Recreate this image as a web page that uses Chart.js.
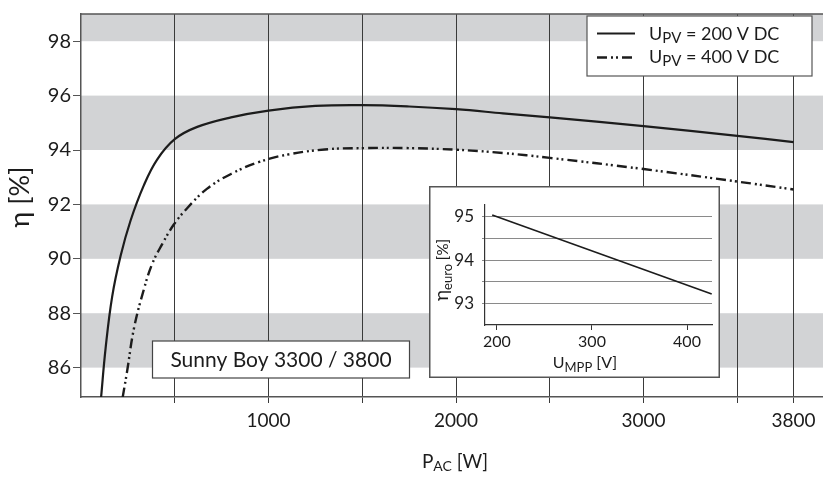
<!DOCTYPE html>
<html>
<head>
<meta charset="utf-8">
<script src="https://cdn.jsdelivr.net/npm/chart.js@4.4.1/dist/chart.umd.min.js"></script>
<style>
  html, body { margin: 0; padding: 0; background: #fff; }
  #wrap { position: relative; width: 823px; height: 477px; }
  #main { position: absolute; left: 0; top: 0; }
  #inset { position: absolute; left: 429px; top: 186px; }
</style>
</head>
<body>
<div id="wrap">
  <canvas id="main" width="823" height="477"></canvas>
  <canvas id="inset" width="291" height="192"></canvas>
</div>
<script>
// main chart data
const pSolid = [107, 131, 166, 211, 264, 335, 406, 500, 620, 800, 1000, 1250, 1500, 1750, 2000, 2250, 2500, 3000, 3500, 3800];
const etaSolid = [84.9, 86.7, 88.6, 90.1, 91.4, 92.7, 93.65, 94.4, 94.85, 95.2, 95.45, 95.62, 95.65, 95.6, 95.5, 95.35, 95.2, 94.88, 94.52, 94.29];

const pDash = [222, 246, 282, 335, 380, 433, 495, 566, 673, 800, 950, 1100, 1300, 1500, 1750, 2000, 2250, 2500, 3000, 3500, 3800];
const etaDash = [84.9, 85.87, 87.43, 88.87, 89.82, 90.54, 91.26, 91.86, 92.58, 93.12, 93.56, 93.83, 94.02, 94.07, 94.07, 94.01, 93.89, 93.71, 93.3, 92.84, 92.55];

const xTickValues = [500, 1000, 1500, 2000, 2500, 3000, 3500, 3800];
const xLabelled = [1000, 2000, 3000, 3800];
const yTickValues = [86, 88, 90, 92, 94, 96, 98];
const grayBands = [[86, 88], [90, 92], [94, 96], [98, 99]];

const seriesNames = ['200 V DC', '400 V DC'];

// inset data
const uMpp = [195, 426];
const etaEuro = [95.03, 93.22];
const insetXTicks = [200, 300, 400];
const insetYTicks = [93, 93.5, 94, 94.5, 95];

const FONT = 'Lato, "Open Sans", sans-serif';
const INK = '#1c1c1c';
const DASH = [10, 4, 2, 3, 2, 4];

function toPoints(xs, ys) {
  return xs.map((x, i) => ({ x: x, y: ys[i] }));
}

/**
 * Draws text pieces one after the other, some of them smaller and lower.
 */
function drawParts(ctx, parts, x, y, align) {
  let total = 0;
  parts.forEach(p => {
    ctx.font = p.size + 'px ' + FONT;
    p.w = ctx.measureText(p.t).width;
    total += p.w;
  });
  let cx = align === 'center' ? x - total / 2 : x;
  ctx.textAlign = 'left';
  ctx.textBaseline = 'alphabetic';
  parts.forEach(p => {
    ctx.font = p.size + 'px ' + FONT;
    ctx.fillText(p.t, cx, y + (p.dy || 0));
    cx += p.w;
  });
}

const bandsPlugin = {
  id: 'bands',
  beforeDraw(chart) {
    const { ctx, chartArea: a, scales: { y } } = chart;
    ctx.save();
    ctx.fillStyle = '#d2d3d5';
    grayBands.forEach(([lo, hi]) => {
      const top = y.getPixelForValue(hi);
      const bot = y.getPixelForValue(lo);
      ctx.fillRect(a.left, top, a.right - a.left, bot - top);
    });
    ctx.restore();
  }
};

const decorPlugin = {
  id: 'decor',
  afterDraw(chart) {
    const { ctx, chartArea: a } = chart;
    ctx.save();
    // top border
    ctx.strokeStyle = '#555';
    ctx.lineWidth = 1.5;
    ctx.beginPath();
    ctx.moveTo(a.left, a.top);
    ctx.lineTo(a.right, a.top);
    ctx.stroke();

    // legend box
    ctx.fillStyle = '#fff';
    ctx.fillRect(587, 16, 225, 60);
    ctx.strokeStyle = '#555';
    ctx.lineWidth = 1.2;
    ctx.strokeRect(587, 16, 225, 60);
    ctx.strokeStyle = INK;
    ctx.lineWidth = 2.2;
    ctx.beginPath();
    ctx.moveTo(597, 33.5);
    ctx.lineTo(635, 33.5);
    ctx.stroke();
    ctx.setLineDash(DASH);
    ctx.lineWidth = 2.4;
    ctx.beginPath();
    ctx.moveTo(597, 57.5);
    ctx.lineTo(635, 57.5);
    ctx.stroke();
    ctx.setLineDash([]);
    ctx.fillStyle = INK;
    drawParts(ctx, [{ t: 'U', size: 18 }, { t: 'PV', size: 15, dy: 3 }, { t: ' = ' + seriesNames[0], size: 18 }], 649, 39.5, 'left');
    drawParts(ctx, [{ t: 'U', size: 18 }, { t: 'PV', size: 15, dy: 3 }, { t: ' = ' + seriesNames[1], size: 18 }], 649, 63, 'left');

    // model box
    ctx.fillStyle = '#fff';
    ctx.fillRect(152.5, 341, 257, 37);
    ctx.strokeStyle = '#444';
    ctx.lineWidth = 1.2;
    ctx.strokeRect(152.5, 341, 257, 37);
    ctx.fillStyle = INK;
    drawParts(ctx, [{ t: 'Sunny Boy 3300 / 3800', size: 21 }], 281, 366.5, 'center');

    // axis titles
    drawParts(ctx, [{ t: 'P', size: 19 }, { t: 'AC', size: 14, dy: 3 }, { t: ' [W]', size: 19 }], 455, 468, 'center');
    ctx.translate(29, 197);
    ctx.rotate(-Math.PI / 2);
    drawParts(ctx, [{ t: 'η [%]', size: 27 }], 0, 0, 'center');
    ctx.restore();
  }
};

function renderMain(canvas) {
  return new Chart(canvas, {
    type: 'line',
    data: {
      datasets: [
        {
          label: seriesNames[0],
          data: toPoints(pSolid, etaSolid),
          borderColor: INK,
          borderWidth: 2.2,
          pointRadius: 0,
          tension: 0.4
        },
        {
          label: seriesNames[1],
          data: toPoints(pDash, etaDash),
          borderColor: INK,
          borderWidth: 2.4,
          borderDash: DASH,
          pointRadius: 0,
          tension: 0.4
        }
      ]
    },
    options: {
      responsive: false,
      animation: false,
      devicePixelRatio: 1,
      layout: { padding: { top: 5, right: 0, left: 0, bottom: 0 } },
      plugins: { legend: { display: false }, tooltip: { enabled: false } },
      scales: {
        x: {
          type: 'linear',
          min: 0,
          max: 3957,
          afterBuildTicks: (s) => { s.ticks = xTickValues.map(v => ({ value: v })); },
          afterFit: (s) => { s.height = 80; },
          ticks: {
            autoSkip: false,
            maxRotation: 0,
            padding: 6,
            color: INK,
            font: { family: FONT, size: 19 },
            callback: (v) => xLabelled.includes(v) ? String(v) : ''
          },
          grid: { color: '#3a3a3a', lineWidth: 1, tickLength: 6 },
          border: { color: '#555', width: 1.5 }
        },
        y: {
          min: 84.92,
          max: 99,
          afterBuildTicks: (s) => { s.ticks = yTickValues.map(v => ({ value: v })); },
          afterFit: (s) => { s.width = 81; },
          ticks: {
            padding: 2,
            color: INK,
            font: { family: FONT, size: 20 }
          },
          grid: { drawOnChartArea: false, color: '#555', tickLength: 8 },
          border: { color: '#555', width: 1.5 }
        }
      }
    },
    plugins: [bandsPlugin, decorPlugin]
  });
}

const insetFrame = {
  id: 'insetFrame',
  beforeDraw(chart) {
    const { ctx, width, height } = chart;
    ctx.save();
    ctx.fillStyle = '#fff';
    ctx.fillRect(0, 0, width, height);
    ctx.restore();
  },
  afterDraw(chart) {
    const { ctx, width, height } = chart;
    ctx.save();
    ctx.strokeStyle = '#555';
    ctx.lineWidth = 1.5;
    ctx.strokeRect(0.75, 0.75, width - 1.5, height - 1.5);
    ctx.fillStyle = INK;
    drawParts(ctx, [{ t: 'U', size: 16 }, { t: 'MPP', size: 13, dy: 4 }, { t: ' [V]', size: 16 }], 156, 182, 'center');
    ctx.translate(19, 84);
    ctx.rotate(-Math.PI / 2);
    drawParts(ctx, [{ t: 'η', size: 19 }, { t: 'euro', size: 13, dy: 4 }, { t: ' [%]', size: 15 }], 0, 0, 'center');
    ctx.restore();
  }
};

function renderInset(canvas) {
  return new Chart(canvas, {
    type: 'line',
    data: {
      datasets: [{
        data: toPoints(uMpp, etaEuro),
        borderColor: INK,
        borderWidth: 1.6,
        pointRadius: 0
      }]
    },
    options: {
      responsive: false,
      animation: false,
      devicePixelRatio: 1,
      layout: { padding: { top: 9, right: 8, left: 0, bottom: 0 } },
      plugins: { legend: { display: false }, tooltip: { enabled: false } },
      scales: {
        x: {
          type: 'linear',
          min: 187.4,
          max: 426.3,
          afterBuildTicks: (s) => { s.ticks = insetXTicks.map(v => ({ value: v })); },
          afterFit: (s) => { s.height = 53; },
          ticks: { autoSkip: false, maxRotation: 0, padding: 2, color: INK, font: { family: FONT, size: 16 } },
          grid: { drawOnChartArea: false, color: '#333', tickLength: 5 },
          border: { color: '#333', width: 1.2 }
        },
        y: {
          min: 92.51,
          max: 95.28,
          afterBuildTicks: (s) => { s.ticks = insetYTicks.map(v => ({ value: v })); },
          afterFit: (s) => { s.width = 56; },
          ticks: {
            padding: 8,
            color: INK,
            font: { family: FONT, size: 17 },
            callback: (v) => Number.isInteger(v) ? String(v) : ''
          },
          grid: { color: '#8a8a8a', lineWidth: 1, tickLength: 3 },
          border: { color: '#333', width: 1.2 }
        }
      }
    },
    plugins: [insetFrame]
  });
}

function init() {
  renderMain(document.getElementById('main'));
  renderInset(document.getElementById('inset'));
}

if (document.readyState === 'loading') {
  document.addEventListener('DOMContentLoaded', init);
} else {
  init();
}
</script>
</body>
</html>
